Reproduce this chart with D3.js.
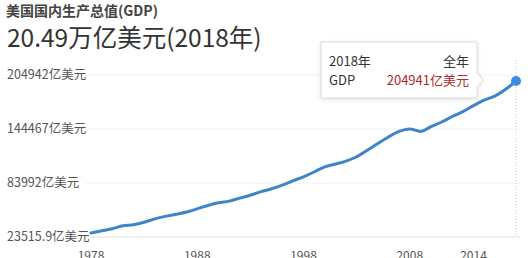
<!DOCTYPE html>
<html><head><meta charset="utf-8">
<script src="https://cdn.jsdelivr.net/npm/d3@7"></script>
<style>
html,body{margin:0;padding:0;background:#fff;overflow:hidden;}
svg{display:block;font-family:"Noto Sans CJK SC","Noto Sans",sans-serif;}
</style></head>
<body>
<svg id="c" width="528" height="258"></svg>
<script>
const years = d3.range(1978, 2019);
const gdp = [23515.9,26273,28573,32070,33438,36340,40376,43390,45796,48552,
  52364,56416,59631,61581,65203,68586,72872,76397,80731,85776,
  90628,96312,102510,105819,109291,114565,122172,130392,138156,144742,
  147699,144781,150490,155997,162540,168432,175507,182060,186951,194796,
  204941];
const yTicks = [23515.9, 83992, 144467, 204942];
const yTickLabels = ["23515.9亿美元","83992亿美元","144467亿美元","204942亿美元"];
const xTicks = [1978, 1988, 1998, 2008, 2014];
const title = "美国国内生产总值(GDP)";
const headline = "20.49万亿美元(2018年)";
const tipYear = "2018年", tipPeriod = "全年", tipName = "GDP", tipValue = "204941亿美元";

const svg = d3.select("#c");
const x = d3.scaleLinear().domain([1978, 2018]).range([91, 516]);
const y = d3.scaleLinear().domain([23515.9, 204941]).range([233, 81]);
const yGrid = d3.scalePoint().domain(yTicks).range([237, 75]);

svg.append("text").attr("x", 6).attr("y", 15.5).attr("font-size", 14).attr("font-weight", "bold")
  .attr("fill", "#444").text(title);
svg.append("text").attr("x", 7).attr("y", 47).attr("font-size", 24.5).attr("fill", "#333").text(headline);

// gridlines
svg.append("g").selectAll("line").data(yTicks).join("line")
  .attr("x1", 86).attr("x2", 520)
  .attr("y1", d => yGrid(d)).attr("y2", d => yGrid(d))
  .attr("stroke", d => d === yTicks[0] ? "#e0e0e0" : "#f0f0f0").attr("stroke-width", 1);
svg.append("g").selectAll("text").data(yTicks).join("text")
  .attr("x", 7).attr("y", d => yGrid(d)).attr("dy", "0.35em")
  .attr("font-size", 12.5).attr("fill", "#555")
  .text((d, i) => yTickLabels[i]);

// x ticks
svg.append("g").selectAll("text").data(xTicks).join("text")
  .attr("x", d => x(d)).attr("y", 260).attr("text-anchor", "middle")
  .attr("font-size", 12).attr("fill", "#555").text(d => d);

// crosshair
svg.append("line").attr("x1", x(2018)).attr("x2", x(2018)).attr("y1", 60).attr("y2", 237)
  .attr("stroke", "#ccc").attr("stroke-dasharray", "1,2");

// line
const line = d3.line().x((d, i) => x(years[i])).y(d => y(d)).curve(d3.curveMonotoneX);
svg.append("path").datum(gdp).attr("d", line).attr("fill", "none")
  .attr("stroke", "#3f84c6").attr("stroke-width", 3).attr("stroke-linejoin", "round").attr("stroke-linecap", "round");
svg.append("circle").attr("cx", x(2018)).attr("cy", y(gdp[gdp.length - 1])).attr("r", 5).attr("fill", "#3a8de3");

// tooltip
const tip = svg.append("g");
tip.append("path")
  .attr("d", "M321,42 H477 V73 L483,80 L477,87 V98 H321 Z")
  .attr("fill", "#fff").attr("stroke", "#ddd").attr("stroke-width", 1)
  .style("filter", "drop-shadow(0 1px 2px rgba(0,0,0,0.12))");
tip.append("text").attr("x", 329).attr("y", 66).attr("font-size", 13).attr("fill", "#333").text(tipYear);
tip.append("text").attr("x", 469).attr("y", 66).attr("text-anchor", "end").attr("font-size", 13).attr("fill", "#333").text(tipPeriod);
tip.append("text").attr("x", 329).attr("y", 85).attr("font-size", 13).attr("fill", "#333").text(tipName);
tip.append("text").attr("x", 469).attr("y", 85).attr("text-anchor", "end").attr("font-size", 13).attr("fill", "#b0282a").text(tipValue);
</script>
</body></html>
